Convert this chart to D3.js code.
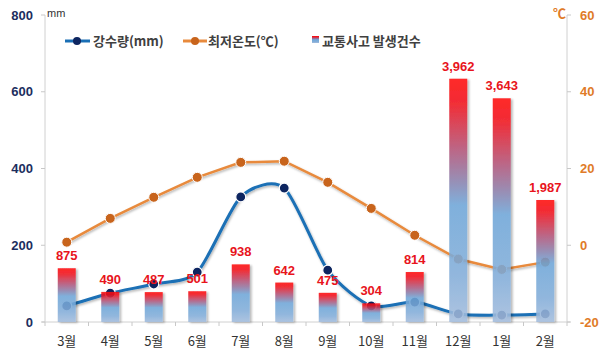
<!DOCTYPE html>
<html><head><meta charset="utf-8">
<script src="https://cdn.jsdelivr.net/npm/d3@7"></script>
<style>body{margin:0;background:#fff;font-family:"Noto Sans CJK KR","Noto Sans",sans-serif;}</style>
</head><body><svg id="c" width="600" height="357"></svg>
<script>
const months = ["3월","4월","5월","6월","7월","8월","9월","10월","11월","12월","1월","2월"];
const rainfall = [42,75,99,130,326,349,135,42,52,21,18,21];
const minTemp = [0.8,7.0,12.5,17.7,21.6,21.9,16.4,9.6,2.6,-3.6,-6.3,-4.4];
const accidents = [875,490,487,501,938,642,475,304,814,3962,3643,1987];
const leftTicks = [0,200,400,600,800];
const rightTicks = [-20,0,20,40,60];

const svg = d3.select("#c");
const L=45, R=567, T=15, B=322;
const x = d3.scaleBand().domain(months).range([L,R]);
const yL = d3.scaleLinear().domain([0,800]).range([B,T]);
const yR = d3.scaleLinear().domain([-20,60]).range([B,T]);
const yB = d3.scaleLinear().domain([0,5000]).range([B,T]);

const defs = svg.append("defs");
const g = defs.append("linearGradient").attr("id","bg").attr("x1",0).attr("y1",0).attr("x2",0).attr("y2",1);
[[0,"#ff0808"],[0.1,"#f0121c"],[0.3,"#b0557a"],[0.42,"#8a80ac"],[0.52,"#6ea6d8"],[0.8,"#82add9"],[1,"#a3bcdc"]]
  .forEach(s=>g.append("stop").attr("offset",s[0]).attr("stop-color",s[1]));
const f = defs.append("filter").attr("id","sh").attr("x","-20%").attr("y","-10%").attr("width","160%").attr("height","130%");
f.append("feDropShadow").attr("dx",2).attr("dy",1).attr("stdDeviation",1.2).attr("flood-color","#000").attr("flood-opacity",0.3);
const f2 = defs.append("filter").attr("id","sh2").attr("x","-20%").attr("y","-20%").attr("width","140%").attr("height","140%");
f2.append("feDropShadow").attr("dx",1).attr("dy",1.5).attr("stdDeviation",1).attr("flood-color","#000").attr("flood-opacity",0.3);

svg.append("line").attr("x1",L).attr("x2",L).attr("y1",T).attr("y2",B).attr("stroke","#d0d0d0");
svg.append("line").attr("x1",R).attr("x2",R).attr("y1",T).attr("y2",B).attr("stroke","#d0d0d0");
svg.append("line").attr("x1",L-3).attr("x2",R+3).attr("y1",B).attr("y2",B).attr("stroke","#d0d0d0");
const lt = svg.append("g");
leftTicks.forEach(v=>{
  lt.append("line").attr("x1",L-4).attr("x2",L).attr("y1",yL(v)).attr("y2",yL(v)).attr("stroke","#c8c8c8");
  lt.append("text").attr("x",33).attr("y",yL(v)).attr("dy","0.35em").attr("text-anchor","end")
    .attr("font-size",13).attr("font-weight","bold").attr("fill","#1c2e5e").attr("font-family","Liberation Sans, Arial, sans-serif").text(v);
});
rightTicks.forEach(v=>{
  lt.append("line").attr("x1",R).attr("x2",R+4).attr("y1",yR(v)).attr("y2",yR(v)).attr("stroke","#c8c8c8");
  lt.append("text").attr("x",R+13).attr("y",yR(v)).attr("dy","0.35em").attr("text-anchor","start")
    .attr("font-size",13).attr("font-weight","bold").attr("fill","#e07b28").attr("font-family","Liberation Sans, Arial, sans-serif").text(v);
});
months.forEach(m=>{
  const xx = x(m);
  svg.append("line").attr("x1",xx).attr("x2",xx).attr("y1",B).attr("y2",B+4).attr("stroke","#c8c8c8");
});
svg.append("line").attr("x1",R).attr("x2",R).attr("y1",B).attr("y2",B+4).attr("stroke","#c8c8c8");
svg.append("g").selectAll("text").data(months).join("text")
  .attr("x",d=>x(d)+x.bandwidth()/2).attr("y",346).attr("text-anchor","middle")
  .attr("font-size",13).attr("fill","#333").text(d=>d);

svg.append("text").attr("x",47).attr("y",17).attr("font-size",11).attr("fill","#333").attr("font-family","Liberation Sans, Arial, sans-serif").text("mm");
svg.append("text").attr("x",553).attr("y",18).attr("font-size",13).attr("font-weight","bold").attr("fill","#e07b28").text("℃");

const cx = d=>x(d)+x.bandwidth()/2;
svg.append("path").datum(minTemp).attr("fill","none").attr("stroke","#e88a3c").attr("stroke-width",2.5).attr("filter","url(#sh2)")
  .attr("d",d3.line().x((d,i)=>cx(months[i])).y(d=>yR(d)));
svg.append("g").selectAll("circle").data(minTemp).join("circle")
  .attr("cx",(d,i)=>cx(months[i])).attr("cy",d=>yR(d)).attr("r",5).attr("fill","#c8641c").attr("stroke","#fff").attr("stroke-width",1);
svg.append("path").datum(rainfall).attr("fill","none").attr("stroke","#1a6fb5").attr("stroke-width",3).attr("filter","url(#sh2)")
  .attr("d",d3.line().x((d,i)=>cx(months[i])).y(d=>yL(d)).curve(d3.curveCardinal.tension(0.25)));
svg.append("g").selectAll("circle").data(rainfall).join("circle")
  .attr("cx",(d,i)=>cx(months[i])).attr("cy",d=>yL(d)).attr("r",5).attr("fill","#0d2560").attr("stroke","#fff").attr("stroke-width",1.2);

const bw = 18;
svg.append("g").selectAll("rect").data(accidents).join("rect")
  .attr("x",(d,i)=>cx(months[i])-bw/2).attr("y",d=>yB(d)).attr("width",bw).attr("height",d=>B-yB(d))
  .attr("fill","url(#bg)").attr("opacity",0.88).attr("filter","url(#sh)");
svg.append("g").selectAll("text").data(accidents).join("text")
  .attr("x",(d,i)=>cx(months[i])).attr("y",d=>yB(d)-8).attr("text-anchor","middle")
  .attr("font-size",13).attr("font-weight","bold").attr("fill","#e8141c").attr("font-family","Liberation Sans, Arial, sans-serif")
  .text(d=>d3.format(",")(d));

const lg = svg.append("g");
lg.append("line").attr("x1",65).attr("x2",90).attr("y1",41).attr("y2",41).attr("stroke","#1a6fb5").attr("stroke-width",3);
lg.append("circle").attr("cx",77).attr("cy",41).attr("r",4).attr("fill","#0d2560");
lg.append("text").attr("x",93).attr("y",46).attr("font-size",13).attr("font-weight","bold").attr("fill","#404040").text("강수량(mm)");
lg.append("line").attr("x1",183).attr("x2",207).attr("y1",41).attr("y2",41).attr("stroke","#e88a3c").attr("stroke-width",3);
lg.append("circle").attr("cx",195).attr("cy",41).attr("r",4).attr("fill","#c8641c");
lg.append("text").attr("x",208).attr("y",46).attr("font-size",13).attr("font-weight","bold").attr("fill","#404040").text("최저온도(℃)");
lg.append("rect").attr("x",312).attr("y",36).attr("width",7).attr("height",7).attr("fill","url(#bg)");
lg.append("text").attr("x",322).attr("y",46).attr("font-size",13).attr("font-weight","bold").attr("fill","#404040").text("교통사고 발생건수");
</script></body></html>
